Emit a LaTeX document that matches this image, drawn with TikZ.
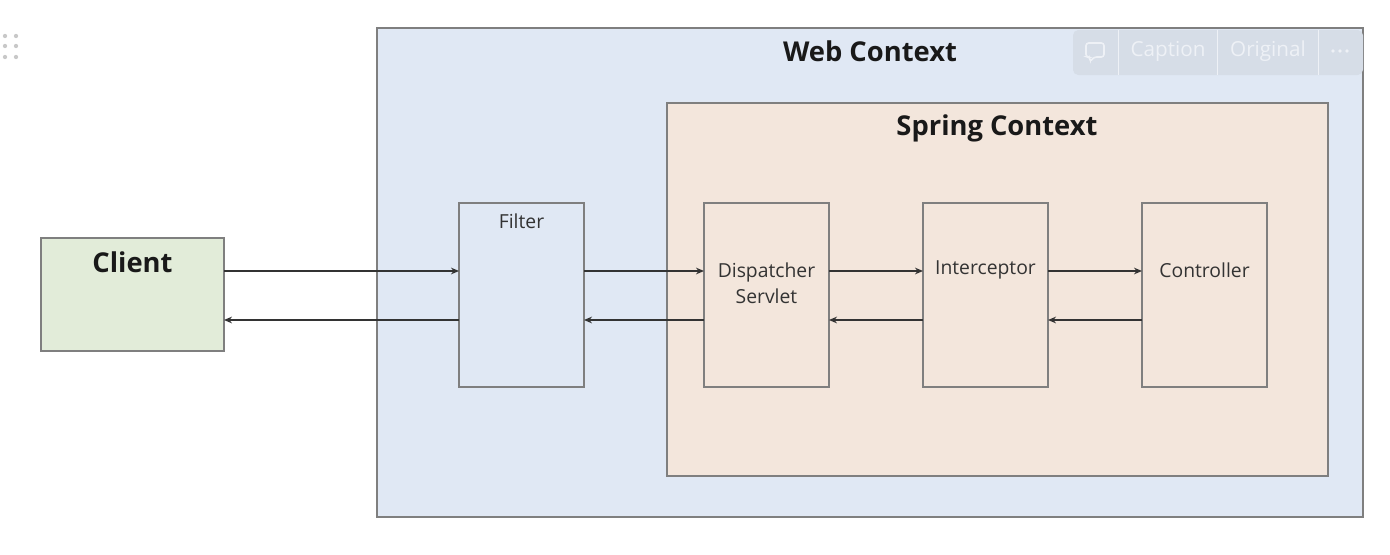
\documentclass[tikz,border=0pt]{standalone}
\usepackage{fontspec}
\setmainfont{Open Sans}
\usetikzlibrary{arrows.meta}
\definecolor{webfill}{HTML}{E0E8F4}
\definecolor{springfill}{HTML}{F3E6DC}
\definecolor{clientfill}{HTML}{E2ECD9}
\definecolor{edge}{HTML}{7F7F7F}
\definecolor{uibar}{HTML}{D6DDE7}
\definecolor{uitext}{HTML}{EEF1F6}
\definecolor{handle}{HTML}{C8C8C8}
\tikzset{
  frame/.style={draw=edge, line width=1.6pt, inner sep=0pt, outer sep=0pt},
  stagebox/.style={draw=edge, line width=1pt, inner sep=0pt, outer sep=0pt,
    minimum width=93.75pt, minimum height=138pt},
  title/.style={font=\bfseries\fontsize{20.5}{24}\selectfont, text=black!90},
  boxlabel/.style={font=\fontsize{14.5}{19.5}\selectfont, text=black!80, align=center},
  flow/.style={draw=black!80, line width=1.2pt, -{Stealth[length=6pt,width=5pt]}},
  uilabel/.style={font=\fontsize{15.5}{18}\selectfont, text=uitext}
}
\begin{document}
\begin{tikzpicture}[x=0.75pt,y=-0.75pt]
\useasboundingbox[fill=white] (0,0) rectangle (1390,554);

% drag handle
\foreach \hx in {5,16} \foreach \hy in {36,46,57}
  \fill[handle] (\hx,\hy) circle (1.6pt);

% containers
\node[frame, fill=webfill, minimum width=739.5pt, minimum height=366.75pt] (web) at (870,272.5) {};
\node[title] (webtitle) at (870,51) {Web Context};
\node[frame, fill=springfill, minimum width=495.75pt, minimum height=279.75pt] (spring) at (997.5,289.5) {};
\node[title] (springtitle) at (997,128) {Spring Context};

% toolbar overlay
\fill[uibar, rounded corners=4pt] (1073,30) rectangle (1363,75);
\draw[uitext, line width=0.6pt] (1118,30) -- (1118,75) (1217,30) -- (1217,75) (1318,30) -- (1318,75);
\draw[uitext, line width=1.2pt, rounded corners=2pt] (1086,43) -- (1104,43) -- (1104,57) -- (1094,57) -- (1090,62) -- (1090,57) -- (1086,57) -- cycle;
\node[uilabel] (uicap) at (1168,51) {Caption};
\node[uilabel] (uiorig) at (1268,51) {Original};
\foreach \dx in {1333,1340,1347} \fill[uitext] (\dx,51) circle (1.4pt);

% client
\node[frame, line width=1.2pt, fill=clientfill, minimum width=137.25pt, minimum height=84.75pt] (client) at (132.5,294.5) {};
\node[title] (clientlbl) at (132.5,262) {Client};

% pipeline stages
\node[stagebox, fill=webfill] (filter) at (521.5,295) {};
\node[boxlabel] (filterlbl) at (521.5,221) {Filter};
\node[stagebox, fill=springfill] (dispatcher) at (766.5,295) {};
\node[boxlabel] (dispatcherlbl) at (766.5,283) {Dispatcher\\Servlet};
\node[stagebox, fill=springfill] (interceptor) at (985.5,295) {};
\node[boxlabel] (interceptorlbl) at (985.5,270) {Interceptor};
\node[stagebox, fill=springfill] (controller) at (1204.5,295) {};
\node[boxlabel] (controllerlbl) at (1204.5,270) {Controller};

% request and response lanes
\coordinate (up) at (0,271);
\coordinate (dn) at (0,320);

\draw[flow] (client.east |- up) -- (filter.west |- up);
\draw[flow] (filter.east |- up) -- (dispatcher.west |- up);
\draw[flow] (dispatcher.east |- up) -- (interceptor.west |- up);
\draw[flow] (interceptor.east |- up) -- (controller.west |- up);

\draw[flow] (controller.west |- dn) -- (interceptor.east |- dn);
\draw[flow] (interceptor.west |- dn) -- (dispatcher.east |- dn);
\draw[flow] (dispatcher.west |- dn) -- (filter.east |- dn);
\draw[flow] (filter.west |- dn) -- (client.east |- dn);
\end{tikzpicture}
\end{document}
